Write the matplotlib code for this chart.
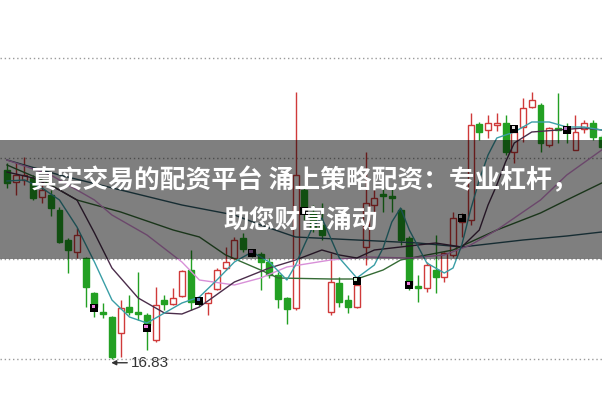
import matplotlib
matplotlib.use("Agg")
import matplotlib.pyplot as plt
import matplotlib.transforms as mtransforms
import numpy as np

# ---- data (price units) ----
opens = [20.61,20.37,20.41,20.45,20.07,20.11,19.81,19.21,18.97,18.85,
         18.15,17.77,17.67,17.35,17.87,17.77,17.71,17.21,18.01,17.93,
         18.09,18.61,17.99,17.95,18.23,18.65,18.85,19.25,18.97,18.93,
         18.77,18.51,18.05,17.85,20.21,19.77,19.51,17.77,18.35,18.01,
         17.87,19.07,19.91,20.13,20.09,19.81,19.25,18.29,18.25,18.61,
         18.47,18.91,19.57,19.61,21.53,21.41,21.51,21.55,20.97,21.47,
         21.87,21.91,21.11,21.45,21.45,21.01,21.43,21.55,21.27]
highs = [20.75,20.77,20.87,20.51,20.31,20.21,19.87,19.25,19.45,18.87,
         18.17,17.95,17.69,18.01,18.11,18.57,17.75,18.27,18.11,18.25,
         18.61,19.01,18.05,18.17,18.65,19.07,19.27,19.35,19.01,18.97,
         18.85,18.57,18.07,22.17,20.29,19.91,19.95,18.95,18.47,18.11,
         18.45,20.97,20.21,20.25,20.25,19.85,19.29,18.51,18.77,19.31,
         18.97,19.77,19.75,21.75,21.57,21.71,21.75,21.71,21.47,22.05,
         22.17,21.95,21.47,22.15,21.55,21.71,21.61,21.61,21.31]
lows = [20.25,20.11,20.31,20.01,19.95,19.69,19.15,18.55,18.85,17.87,
        17.67,17.65,16.83,16.87,17.71,17.61,17.01,17.17,17.81,17.91,
        18.07,17.81,17.89,17.71,18.21,18.61,18.81,18.97,18.87,18.21,
        18.45,17.85,17.53,17.81,19.61,19.37,19.21,17.71,17.87,17.75,
        17.85,18.71,19.61,19.77,19.77,19.11,18.21,17.97,18.17,18.15,
        18.37,18.87,19.27,19.51,21.21,21.25,21.39,20.91,20.75,21.17,
        21.85,20.97,21.07,21.15,21.15,21.01,21.35,21.21,21.01]
closes = [20.35,20.51,20.51,20.05,20.21,19.85,19.17,19.01,19.31,18.27,
          17.87,17.73,16.87,17.85,17.77,17.73,17.51,17.91,17.93,18.05,
          18.59,17.97,17.95,18.15,18.61,18.77,19.21,19.03,18.91,18.77,
          18.51,18.03,17.83,20.51,19.77,19.45,19.31,18.37,17.97,17.87,
          18.31,19.95,20.05,20.09,20.05,19.21,18.31,18.25,18.71,18.47,
          18.95,19.65,19.71,21.51,21.37,21.55,21.55,20.97,21.37,21.85,
          22.01,21.15,21.45,21.41,21.37,21.37,21.55,21.27,21.07]

# moving-average lines (candle index, price)
ma5_idx = [0,2,4,6,8,10,12,14,16,18,20,22,24,26,28,30,32,33,34,35,36,37,38,40,42,43,44,45,46,48,50,51,52,53,54,55,56,58,60,62,64,66,68]
ma5_val = [20.39,20.41,20.25,20.01,19.47,18.77,18.01,17.67,17.55,17.75,17.95,18.07,18.41,18.77,18.97,18.77,18.41,18.71,19.11,19.49,19.65,19.25,18.85,18.45,18.71,19.05,19.57,19.85,19.41,18.75,18.55,18.65,19.11,19.81,20.41,20.91,21.25,21.37,21.57,21.57,21.47,21.47,21.41]
ma10_idx = [0,3,6,8,10,12,15,18,20,22,26,30,33,36,38,40,42,45,49,52,54,55,56,57,58,60,63,66,68]
ma10_val = [20.57,20.45,20.21,20.01,19.35,18.65,18.05,17.75,17.73,17.87,18.37,18.65,18.81,19.01,18.91,18.85,19.01,19.07,19.15,19.07,19.41,19.91,20.31,20.77,21.15,21.37,21.41,21.45,21.41]
ma20_idx = [0,5,10,12,16,20,22,26,29,32,37,41,46,50,53,56,61,64,68]
ma20_val = [20.81,20.51,20.01,19.71,19.31,18.77,18.41,18.31,18.45,18.67,18.81,18.87,18.85,18.91,19.11,19.41,20.01,20.51,21.01]
ma30_idx = [0,4,8,13,19,22,25,29,31,37,40,43,45,51,56,61,64,68]
ma30_val = [20.71,20.41,20.01,19.77,19.41,19.27,18.91,18.61,18.45,18.43,18.43,18.61,18.81,19.01,19.41,19.75,20.01,20.35]
ma60_idx = [0,6,13,20,26,29,33,40,47,52,59,64,68]
ma60_val = [20.81,20.51,20.21,19.91,19.71,19.51,19.27,19.21,19.15,19.07,19.21,19.29,19.37]

# signal markers
mark_idx = [10,16,22,28,34,40,46,52,58,64]
mark_val = [17.85,17.45,17.99,18.95,19.79,18.39,18.31,19.65,21.43,21.41]
mark_inner = ['#f080e0','#f080e0','#6080c0','#b070c0','#404040','#d0f0d0','#f080e0','#e0e0e0','#e0e0e0','#b070c0']

grid_levels = [22.85, 20.85, 18.83, 16.83]
title1 = "真实交易的配资平台 涌上策略配资：专业杠杆，"
title2 = "助您财富涌动"

# ---- figure ----
fig = plt.figure(figsize=(6.02, 4.01), dpi=100)
ax = fig.add_axes([0, 0, 1, 1])
ax.set_xlim(-0.8, 68.03)
ax.set_ylim(15.99, 24.01)
ax.axis('off')

for g in grid_levels:
    ax.axhline(g, color='#9a9a9a', lw=1.0, ls=(0, (1, 2)), zorder=0)

RED = '#d03a3a'
GREEN = '#23a023'
x = np.arange(len(opens))
o = np.array(opens); c = np.array(closes); h = np.array(highs); l = np.array(lows)
up = c >= o
wcol = [RED if u else GREEN for u in up]
ax.vlines(x, l, h, colors=wcol, lw=1.0, zorder=2)
bottoms = np.minimum(o, c)
heights = np.maximum(np.abs(c - o), 0.02)
ax.bar(x[up], heights[up], bottom=bottoms[up], width=0.68,
       facecolor='white', edgecolor=RED, lw=1.0, zorder=3)
ax.bar(x[~up], heights[~up], bottom=bottoms[~up], width=0.68,
       facecolor=GREEN, edgecolor=GREEN, lw=1.0, zorder=3)

ax.plot(ma60_idx, ma60_val, color='#2e5a66', lw=1.0, zorder=4)
ax.plot(ma30_idx, ma30_val, color='#356b35', lw=1.0, zorder=4)
ax.plot(ma20_idx, ma20_val, color='#d890d8', lw=1.0, zorder=4)
ax.plot(ma10_idx, ma10_val, color='#4b2d4b', lw=1.0, zorder=4)
ax.plot(ma5_idx, ma5_val, color='#3a9ea6', lw=1.0, zorder=4)

ax.scatter(mark_idx, mark_val, marker='s', s=30, color='black', lw=0, zorder=5)
ax.scatter(np.array(mark_idx) - 0.12, np.array(mark_val) + 0.03, marker='s', s=6,
           color=mark_inner, lw=0, zorder=6)

# lowest price label: horizontal arrow + value
imin = int(np.argmin(l))
tip = mtransforms.offset_copy(ax.transData, fig=fig, x=-0.5, y=-2.7, units='points')
ax.annotate("", xy=(imin, l[imin]), xycoords=tip,
            xytext=(11.5, 0), textcoords='offset points',
            arrowprops=dict(arrowstyle='-|>', color='#333333', lw=1.0,
                            mutation_scale=7, shrinkA=0, shrinkB=0),
            zorder=6)
ax.annotate(f"{l[imin]:.2f}", xy=(imin, l[imin]), xytext=(13.5, -2.7),
            textcoords='offset points', ha='left', va='center',
            fontsize=11, color='#333333', family=['Liberation Sans', 'DejaVu Sans'],
            zorder=6)

# translucent banner
ax.axhspan(24.01 - 259 / 50, 24.01 - 140 / 50, color='black', alpha=0.5, lw=0, zorder=7)

fam = ['Noto Sans CJK SC', 'DejaVu Sans']
fig.text(304 / 602, 1 - 181 / 401, title1, ha='center', va='center',
         fontsize=18.5, fontweight='bold', color='white', family=fam, zorder=8)
fig.text(301 / 602, 1 - 220 / 401, title2, ha='center', va='center',
         fontsize=18.5, fontweight='bold', color='white', family=fam, zorder=8)

fig.savefig('out.png', dpi=100)
